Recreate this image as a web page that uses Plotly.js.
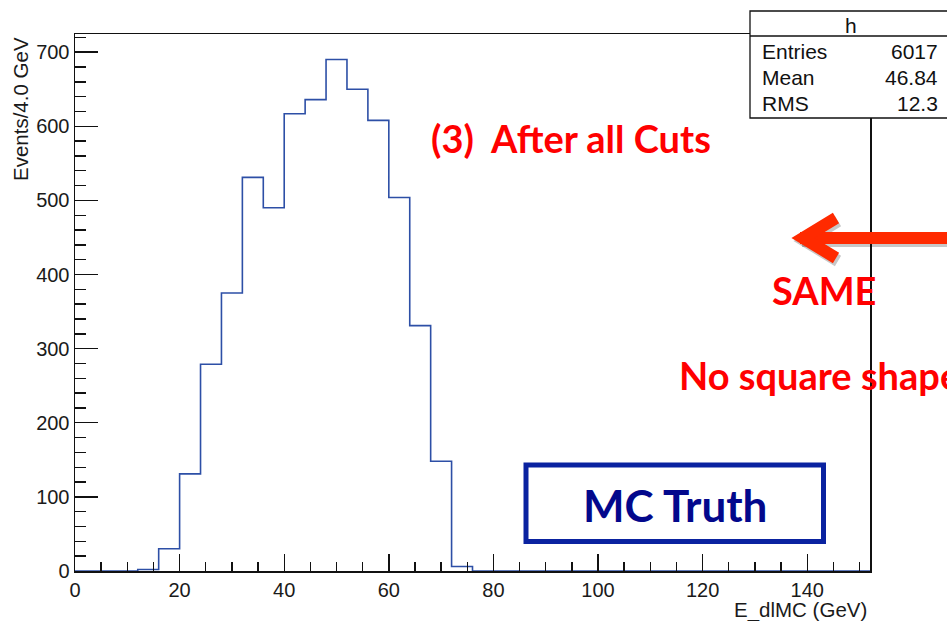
<!DOCTYPE html>
<html>
<head>
<meta charset="utf-8">
<script src="https://cdn.plot.ly/plotly-3.0.1.min.js"></script>
<style>
  html, body { margin: 0; padding: 0; background: #ffffff; }
  #chart { width: 947px; height: 621px; }
</style>
</head>
<body>
<div id="chart"></div>
<script>
// Histogram h: E_dlMC, 4 GeV bins from 0 to 152 GeV
const binLowEdges = [0, 4, 8, 12, 16, 20, 24, 28, 32, 36, 40, 44, 48, 52, 56, 60, 64, 68, 72, 76,
                     80, 84, 88, 92, 96, 100, 104, 108, 112, 116, 120, 124, 128, 132, 136, 140, 144, 148];
const binCounts   = [0, 0, 0, 2, 30, 131, 279, 375, 531, 490, 617, 636, 690, 650, 608, 504, 331, 148, 6, 0,
                     0, 0, 0, 0, 0, 0, 0, 0, 0, 0, 0, 0, 0, 0, 0, 0, 0, 0];
const binWidth = 4;

const xTickValues = [0, 20, 40, 60, 80, 100, 120, 140];
const yTickValues = [0, 100, 200, 300, 400, 500, 600, 700];

const statsTitle  = 'h';
const statNames   = ['Entries', 'Mean', 'RMS'];
const statValues  = ['6017', '46.84', '12.3'];

const xTitle = 'E_dlMC (GeV)';
const yTitle = 'Events/4.0 GeV';
const noteCuts   = '(3)\u00a0 After all Cuts';
const noteSame   = 'SAME';
const noteSquare = 'No square shape';
const noteTruth  = 'MC Truth';

// ---- frame geometry (pixels) ----
const W = 947, H = 621;
const FL = 75, FR = 870, FT = 34, FB = 571;
const px = x => (x - FL) / (FR - FL);
const py = y => (FB - y) / (FB - FT);

// step outline: each bin drawn flat across its width
const stepX = binLowEdges.concat([binLowEdges[binLowEdges.length - 1] + binWidth]);
const stepY = binCounts.concat([binCounts[binCounts.length - 1]]);
const yMax = 1.05 * Math.max.apply(null, binCounts);

const histTrace = {
  type: 'scatter',
  mode: 'lines',
  x: stepX,
  y: stepY,
  line: { shape: 'hv', color: '#2d4fa6', width: 1.6 },
  hoverinfo: 'skip',
  showlegend: false
};

const sans = '"Liberation Sans", Arial, sans-serif';
const tickFont = { family: sans, size: 20, color: '#1a1a1a' };
const redFont = (s) => ({ family: 'Lato, "Open Sans", sans-serif', size: s, color: '#ff0000', weight: 'bold' });

const annotations = [
  // axis titles, ROOT style (right / top aligned)
  { xref: 'paper', yref: 'paper', x: px(869), y: py(610), xanchor: 'right', yanchor: 'middle',
    text: xTitle, showarrow: false, font: { family: sans, size: 20.5, color: '#1a1a1a' } },
  { xref: 'paper', yref: 'paper', x: px(20), y: py(35), xanchor: 'center', yanchor: 'top',
    text: yTitle, textangle: -90, showarrow: false, font: { family: sans, size: 20.5, color: '#1a1a1a' } },
  // stats box title
  { xref: 'paper', yref: 'paper', x: px(851), y: py(25), xanchor: 'center', yanchor: 'middle',
    text: statsTitle, showarrow: false, font: { family: sans, size: 21, color: '#111' } },
  // red notes
  { xref: 'paper', yref: 'paper', x: px(571), y: py(138), xanchor: 'center', yanchor: 'middle',
    text: '<b>' + noteCuts + '</b>', showarrow: false, font: redFont(38) },
  { xref: 'paper', yref: 'paper', x: px(824), y: py(290), xanchor: 'center', yanchor: 'middle',
    text: '<b>' + noteSame + '</b>', showarrow: false, font: redFont(38) },
  { xref: 'paper', yref: 'paper', x: px(677), y: py(375), xanchor: 'left', yanchor: 'middle',
    text: '<b>' + noteSquare + '</b>', showarrow: false, font: redFont(38) },
  // MC Truth label
  { xref: 'paper', yref: 'paper', x: px(675), y: py(505), xanchor: 'center', yanchor: 'middle',
    text: '<b>' + noteTruth + '</b>', showarrow: false,
    font: { family: 'Lato, "Open Sans", sans-serif', size: 44, color: '#03088c', weight: 'bold' } }
];

const statRowsY = [52, 77.5, 103];
statNames.forEach((name, i) => {
  annotations.push({ xref: 'paper', yref: 'paper', x: px(760), y: py(statRowsY[i]), xanchor: 'left', yanchor: 'middle',
    text: name, showarrow: false, font: { family: sans, size: 21, color: '#111' } });
  annotations.push({ xref: 'paper', yref: 'paper', x: px(940), y: py(statRowsY[i]), xanchor: 'right', yanchor: 'middle',
    text: statValues[i], showarrow: false, font: { family: sans, size: 21, color: '#111' } });
});

const arrowRed = '#ff2a00';
const shade = 'rgba(0,0,0,0.22)';
const shapes = [
  // stats box
  { type: 'rect', xref: 'paper', yref: 'paper', x0: px(750), x1: px(990), y0: py(11), y1: py(118),
    fillcolor: '#ffffff', line: { color: '#111', width: 1.3 }, layer: 'above' },
  { type: 'line', xref: 'paper', yref: 'paper', x0: px(750), x1: px(990), y0: py(36), y1: py(36),
    line: { color: '#111', width: 1.3 }, layer: 'above' },
  // MC Truth frame
  { type: 'rect', xref: 'paper', yref: 'paper', x0: px(526), x1: px(823.5), y0: py(465), y1: py(541.5),
    fillcolor: 'rgba(0,0,0,0)', line: { color: '#0a22a0', width: 5 }, layer: 'above' },
  // arrow shadow
  { type: 'line', xref: 'paper', yref: 'paper', x0: px(802), x1: px(990), y0: py(241), y1: py(241),
    line: { color: shade, width: 12 }, layer: 'above' },
  { type: 'path', xref: 'paper', yref: 'paper',
    path: 'M ' + px(838) + ',' + py(221) + ' L ' + px(805) + ',' + py(241) + ' L ' + px(838) + ',' + py(261),
    line: { color: shade, width: 12 }, layer: 'above' },
  // arrow
  { type: 'line', xref: 'paper', yref: 'paper', x0: px(800), x1: px(990), y0: py(238), y1: py(238),
    line: { color: arrowRed, width: 12 }, layer: 'above' },
  { type: 'path', xref: 'paper', yref: 'paper',
    path: 'M ' + px(836) + ',' + py(218) + ' L ' + px(803) + ',' + py(238) + ' L ' + px(836) + ',' + py(258),
    line: { color: arrowRed, width: 12 }, layer: 'above' }
];

const layout = {
  width: W, height: H,
  margin: { l: FL, r: W - FR, t: FT, b: H - FB, pad: 0 },
  paper_bgcolor: '#ffffff',
  plot_bgcolor: '#ffffff',
  showlegend: false,
  xaxis: {
    range: [0, binLowEdges[binLowEdges.length - 1] + binWidth],
    tickmode: 'array', tickvals: xTickValues, ticktext: xTickValues.map(String),
    ticks: 'inside', ticklen: 17, tickwidth: 1.4, tickcolor: '#111',
    minor: { dtick: 5, tick0: 0, ticks: 'inside', ticklen: 9, tickwidth: 1.4, tickcolor: '#111', showgrid: false },
    showgrid: false, zeroline: false,
    showline: true, linecolor: '#111', linewidth: 1.5, mirror: true,
    tickfont: tickFont, fixedrange: true
  },
  yaxis: {
    range: [0, yMax],
    tickmode: 'array', tickvals: yTickValues, ticktext: yTickValues.map(String),
    ticks: 'inside', ticklen: 23, tickwidth: 1.4, tickcolor: '#111',
    minor: { dtick: 20, tick0: 0, ticks: 'inside', ticklen: 11, tickwidth: 1.4, tickcolor: '#111', showgrid: false },
    showgrid: false, zeroline: false,
    showline: true, linecolor: '#111', linewidth: 1.5, mirror: true,
    tickfont: tickFont, fixedrange: true
  },
  annotations: annotations,
  shapes: shapes
};

Plotly.newPlot('chart', [histTrace], layout, { displayModeBar: false, staticPlot: true });
</script>
</body>
</html>
